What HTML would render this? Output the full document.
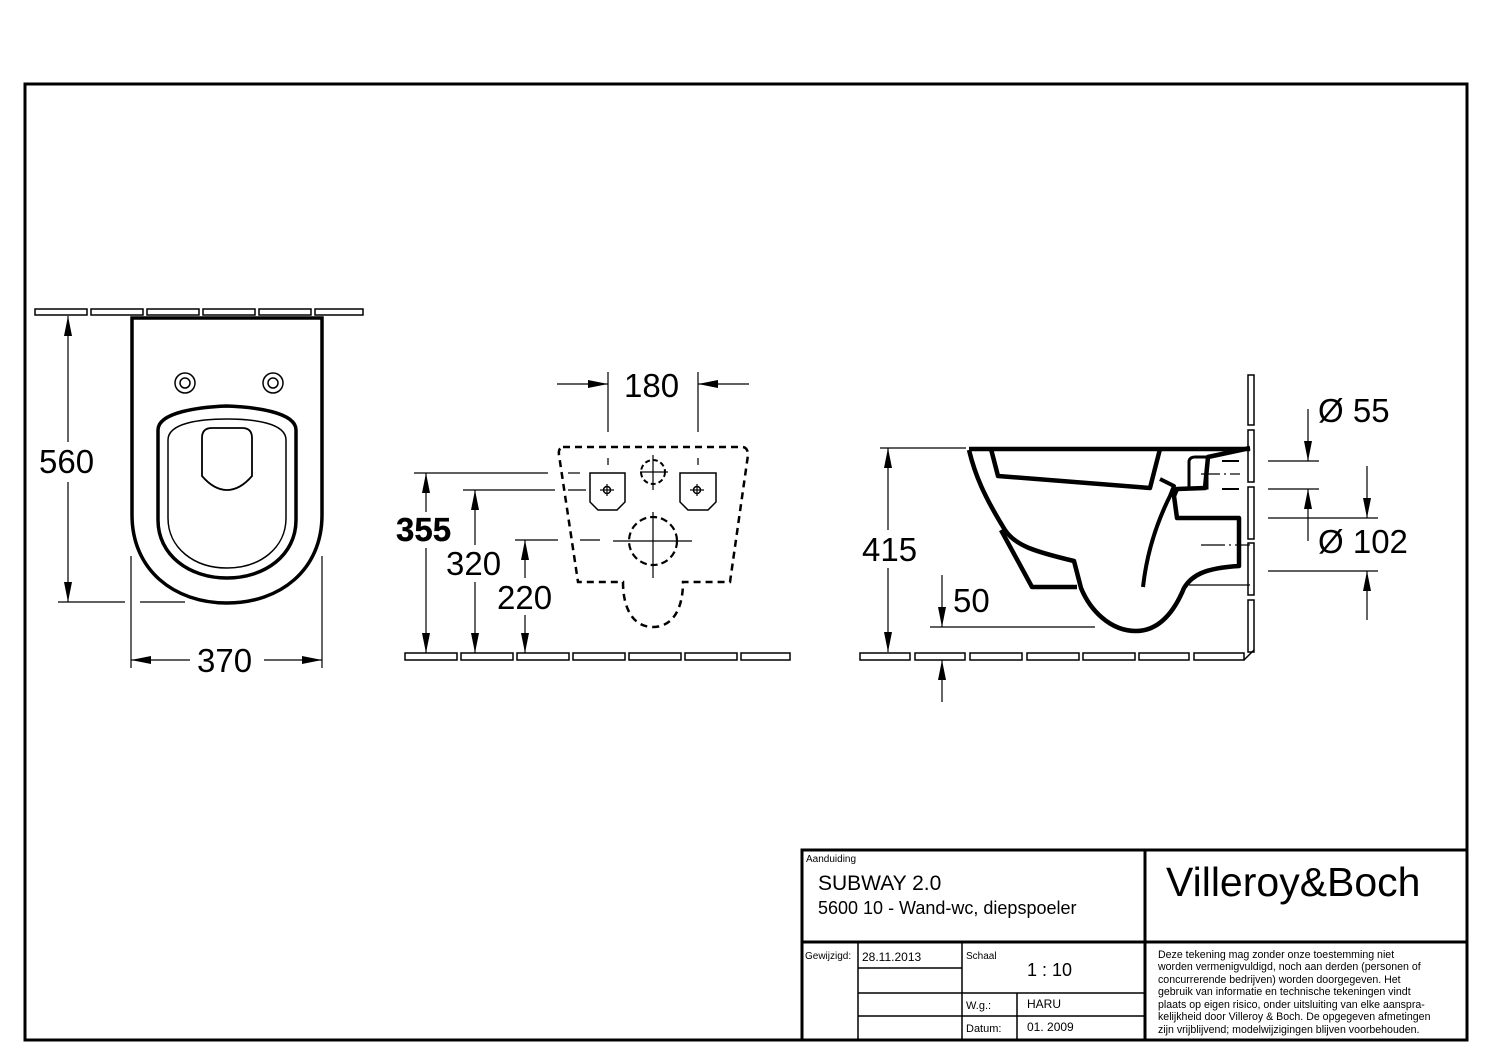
<!DOCTYPE html>
<html><head><meta charset="utf-8"><style>
html,body{margin:0;padding:0;background:#fff;}
svg{display:block;}
text{font-family:"Liberation Sans",sans-serif;fill:#000;}
</style></head><body>
<svg width="1500" height="1060" viewBox="0 0 1500 1060" xmlns="http://www.w3.org/2000/svg">
<defs>
<marker id="a" viewBox="0 0 20 8" refX="20" refY="4" markerWidth="20" markerHeight="8" markerUnits="userSpaceOnUse" orient="auto-start-reverse"><path d="M0,0 L20,4 L0,8 Z" fill="#000"/></marker>
</defs>
<g fill="none" stroke="#000">
<rect x="25" y="84" width="1442" height="956" stroke-width="3"/>
<rect x="802" y="850" width="665" height="190" stroke-width="3"/>
<line x1="1145" y1="850" x2="1145" y2="1040" stroke-width="3"/>
<line x1="802" y1="942" x2="1467" y2="942" stroke-width="3"/>
<g stroke-width="1.5">
<line x1="858" y1="942" x2="858" y2="1040"/>
<line x1="962" y1="942" x2="962" y2="1040"/>
<line x1="1017" y1="993" x2="1017" y2="1040"/>
<line x1="858" y1="968" x2="962" y2="968"/>
<line x1="858" y1="993" x2="1145" y2="993"/>
<line x1="858" y1="1016" x2="1145" y2="1016"/>
</g>

<!-- LEFT VIEW -->
<g stroke-width="1.5">
<rect x="35" y="309" width="52" height="6"/><rect x="91" y="309" width="52" height="6"/><rect x="147" y="309" width="52" height="6"/><rect x="203" y="309" width="52" height="6"/><rect x="259" y="309" width="52" height="6"/><rect x="315" y="309" width="48" height="6"/>
</g>
<path d="M132,318 L322,318 L322,515 C322,570 280,603 227,603 C174,603 132,570 132,515 Z" stroke-width="3.5"/>
<circle cx="185" cy="383" r="10" stroke-width="1.5"/><circle cx="185" cy="383" r="5" stroke-width="1.5"/>
<circle cx="273" cy="383" r="10" stroke-width="1.5"/><circle cx="273" cy="383" r="5" stroke-width="1.5"/>
<path d="M158,430 C158,412 200,407 227,406 C254,407 296,412 296,430 L296,520 C296,555 265,578 227,578 C189,578 158,555 158,520 Z" stroke-width="3.5"/>
<path d="M168,440 C168,423 200,419 227,419 C254,419 286,423 286,440 L286,518 C286,548 260,568 227,568 C194,568 168,548 168,518 Z" stroke-width="1.5"/>
<path d="M212,428 L242,428 Q252,428 252,438 L252,476 Q240,490 227,490 Q214,490 202,476 L202,438 Q202,428 212,428 Z" stroke-width="1.8"/>
<g stroke-width="1.2">
<line x1="68" y1="316" x2="68" y2="442" marker-start="url(#a)"/>
<line x1="68" y1="482" x2="68" y2="602" marker-end="url(#a)"/>
<line x1="58" y1="602" x2="125" y2="602"/><line x1="140" y1="602" x2="185" y2="602"/>
<line x1="131" y1="556" x2="131" y2="668"/><line x1="322" y1="556" x2="322" y2="668"/>
<line x1="131" y1="660" x2="190" y2="660" marker-start="url(#a)"/>
<line x1="264" y1="660" x2="322" y2="660" marker-end="url(#a)"/>
</g>

<!-- MIDDLE VIEW -->
<g stroke-width="1.5">
<rect x="405" y="653" width="52" height="7"/><rect x="461" y="653" width="52" height="7"/><rect x="517" y="653" width="52" height="7"/><rect x="573" y="653" width="52" height="7"/><rect x="629" y="653" width="52" height="7"/><rect x="685" y="653" width="52" height="7"/><rect x="741" y="653" width="49" height="7"/>
</g>
<path d="M563,447 L743,447 Q748,448 748,455 L730,582 L683,582 C683,610 672,627 653,627 C634,627 623,610 623,582 L578,582 L559,455 Q558,448 563,447 Z" stroke-width="2.5" stroke-dasharray="7,5"/>
<path d="M590,473 L625,473 L625,502 L617,510 L598,510 L590,502 Z" stroke-width="1.5"/>
<path d="M680,473 L716,473 L716,502 L708,510 L688,510 L680,502 Z" stroke-width="1.5"/>
<circle cx="607" cy="490" r="3.5" stroke-width="1.5"/><circle cx="697" cy="490" r="3.5" stroke-width="1.5"/>
<g stroke-width="1.2">
<line x1="600" y1="490" x2="614" y2="490"/><line x1="607" y1="484" x2="607" y2="496"/>
<line x1="690" y1="490" x2="704" y2="490"/><line x1="697" y1="484" x2="697" y2="496"/>
</g>
<circle cx="653" cy="472" r="12" stroke-width="2" stroke-dasharray="5,3"/>
<circle cx="653" cy="541" r="24" stroke-width="2.2" stroke-dasharray="7,4"/>
<g stroke-width="1.2">
<line x1="653" y1="455" x2="653" y2="490"/><line x1="640" y1="472" x2="668" y2="472"/>
<line x1="653" y1="512" x2="653" y2="578"/><line x1="613" y1="541" x2="692" y2="541"/>
<line x1="608" y1="372" x2="608" y2="432"/><line x1="698" y1="372" x2="698" y2="432"/>
<line x1="608" y1="458" x2="608" y2="465"/><line x1="698" y1="458" x2="698" y2="465"/>
<line x1="557" y1="384" x2="608" y2="384" marker-end="url(#a)"/>
<line x1="749" y1="384" x2="698" y2="384" marker-end="url(#a)"/>
<line x1="414" y1="473" x2="548" y2="473"/><line x1="568" y1="473" x2="580" y2="473"/>
<line x1="463" y1="490" x2="555" y2="490"/><line x1="568" y1="490" x2="586" y2="490"/>
<line x1="515" y1="540" x2="558" y2="540"/><line x1="580" y1="540" x2="600" y2="540"/>
<line x1="426" y1="473" x2="426" y2="512" marker-start="url(#a)"/><line x1="426" y1="548" x2="426" y2="653" marker-end="url(#a)"/>
<line x1="475" y1="490" x2="475" y2="545" marker-start="url(#a)"/><line x1="475" y1="582" x2="475" y2="653" marker-end="url(#a)"/>
<line x1="525" y1="540" x2="525" y2="578" marker-start="url(#a)"/><line x1="525" y1="615" x2="525" y2="653" marker-end="url(#a)"/>
</g>

<!-- RIGHT VIEW -->
<g stroke-width="1.5">
<rect x="860" y="653" width="50" height="7"/><rect x="915" y="653" width="50" height="7"/><rect x="970" y="653" width="52" height="7"/><rect x="1027" y="653" width="52" height="7"/><rect x="1083" y="653" width="52" height="7"/><rect x="1139" y="653" width="50" height="7"/><rect x="1194" y="653" width="50" height="7"/>
<rect x="1248" y="375" width="6" height="50"/><rect x="1248" y="430" width="6" height="52"/><rect x="1248" y="487" width="6" height="52"/><rect x="1248" y="543" width="6" height="52"/><rect x="1248" y="600" width="6" height="52"/>
<line x1="1244" y1="660" x2="1254" y2="650"/>
</g>
<path d="M969,449 L1250,449 M969,450 C975,475 984,496 1005,530 C1015,545 1032,551 1074,561 L1081,588 C1090,610 1110,631 1136,631 C1160,631 1175,610 1184,588 C1192,575 1205,568 1239,566 L1239,518 L1177,518 L1174,496 L1177,489 L1205,488 L1208,457 L1250,448" stroke-width="4.5" stroke-linejoin="round"/>
<path d="M991,449 L998,476 L1150,488 L1160,449" stroke-width="4.5" stroke-linejoin="round"/>
<path d="M1001,530 L1032,587 L1077,587" stroke-width="4.5" stroke-linejoin="round"/>
<path d="M1143,587 C1146,560 1153,530 1170,496 L1174,486 L1160,479" stroke-width="4" stroke-linejoin="round"/>
<path d="M1189,488 L1189,461 Q1190,457 1195,457 L1207,457 L1207,488 Z" stroke-width="3"/>
<g stroke-width="1.2">
<line x1="1189" y1="585" x2="1250" y2="585"/>
<line x1="1201" y1="474" x2="1220" y2="474"/><line x1="1224" y1="474" x2="1226" y2="474"/><line x1="1230" y1="474" x2="1240" y2="474"/>
<line x1="1201" y1="545" x2="1225" y2="545"/><line x1="1229" y1="545" x2="1231" y2="545"/><line x1="1235" y1="545" x2="1250" y2="545"/>
<line x1="1222" y1="461" x2="1239" y2="461" stroke-width="2"/><line x1="1222" y1="489" x2="1239" y2="489" stroke-width="2"/>
<line x1="1268" y1="461" x2="1319" y2="461"/><line x1="1268" y1="489" x2="1319" y2="489"/>
<line x1="1268" y1="518" x2="1378" y2="518"/><line x1="1268" y1="571" x2="1378" y2="571"/>
<line x1="1308" y1="409" x2="1308" y2="461" marker-end="url(#a)"/>
<line x1="1308" y1="541" x2="1308" y2="489" marker-end="url(#a)"/>
<line x1="1367" y1="466" x2="1367" y2="518" marker-end="url(#a)"/>
<line x1="1367" y1="620" x2="1367" y2="571" marker-end="url(#a)"/>
<line x1="880" y1="448" x2="966" y2="448"/>
<line x1="888" y1="448" x2="888" y2="530" marker-start="url(#a)"/><line x1="888" y1="568" x2="888" y2="652" marker-end="url(#a)"/>
<line x1="930" y1="627" x2="1095" y2="627"/>
<line x1="942" y1="575" x2="942" y2="627" marker-end="url(#a)"/>
<line x1="942" y1="702" x2="942" y2="660" marker-end="url(#a)"/>
</g>
</g>

<g font-size="33">
<text x="39" y="473">560</text>
<text x="197" y="672">370</text>
<text x="624" y="397">180</text>
<text x="396" y="541" font-weight="bold" stroke="#000" stroke-width="0.3">355</text>
<text x="446" y="575">320</text>
<text x="497" y="609">220</text>
<text x="862" y="561">415</text>
<text x="953" y="612">50</text>
<text x="1318" y="422">Ø 55</text>
<text x="1318" y="553">Ø 102</text>
</g>

<text x="806" y="862" font-size="10">Aanduiding</text>
<text x="818" y="890" font-size="21">SUBWAY 2.0</text>
<text x="818" y="914" font-size="18">5600 10 - Wand-wc, diepspoeler</text>
<text x="1166" y="896" font-size="41">Villeroy&amp;Boch</text>
<text x="805" y="959" font-size="10">Gewijzigd:</text>
<text x="862" y="961" font-size="12">28.11.2013</text>
<text x="966" y="959" font-size="10">Schaal</text>
<text x="1027" y="976" font-size="18">1 : 10</text>
<text x="966" y="1009" font-size="11">W.g.:</text>
<text x="1027" y="1008" font-size="12">HARU</text>
<text x="966" y="1032" font-size="11">Datum:</text>
<text x="1027" y="1031" font-size="12">01. 2009</text>
<g font-size="10.6">
<text x="1158" y="958">Deze tekening mag zonder onze toestemming niet</text>
<text x="1158" y="970">worden vermenigvuldigd, noch aan derden  (personen of</text>
<text x="1158" y="983">concurrerende bedrijven) worden doorgegeven. Het</text>
<text x="1158" y="995">gebruik van informatie en technische tekeningen  vindt</text>
<text x="1158" y="1008">plaats op eigen risico, onder uitsluiting van elke aanspra-</text>
<text x="1158" y="1020">kelijkheid door Villeroy &amp; Boch. De opgegeven afmetingen</text>
<text x="1158" y="1033">zijn vrijblijvend; modelwijzigingen blijven voorbehouden.</text>
</g>
</svg>
</body></html>
